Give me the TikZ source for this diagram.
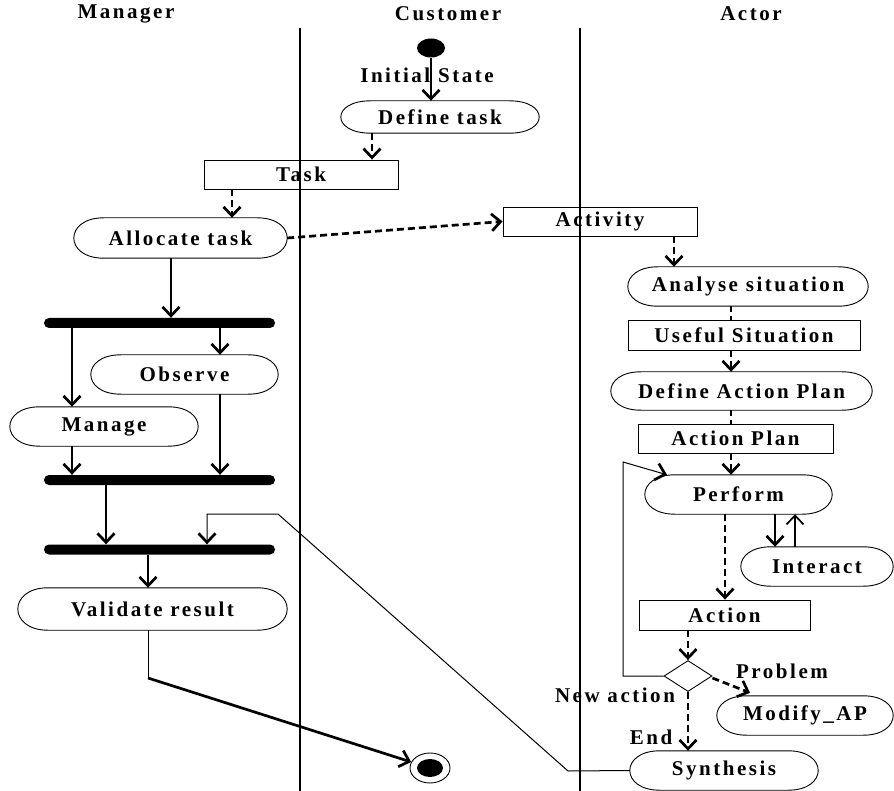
\documentclass[tikz,border=0pt]{standalone}
\usepackage{fontspec}
\setmainfont{Liberation Serif}[LetterSpace=12]
\usepackage{tikz}
\usetikzlibrary{arrows.meta,shapes.geometric,calc}
\makeatletter
\tikzset{actv/.style={%
  rectangle, inner sep=0pt, minimum height=39pt,
  append after command={%
    \pgfextra{%
      % outline with long, flat rounded ends
      \draw[line width=0.9pt] ([xshift=30pt]\tikzlastnode.north west) -- ([xshift=-30pt]\tikzlastnode.north east)
        .. controls ([xshift=10pt]\tikzlastnode.north east) and ([xshift=10pt]\tikzlastnode.south east) ..
        ([xshift=-30pt]\tikzlastnode.south east) -- ([xshift=30pt]\tikzlastnode.south west)
        .. controls ([xshift=-10pt]\tikzlastnode.south west) and ([xshift=-10pt]\tikzlastnode.north west) ..
        cycle;
    }
  }
}
}
\makeatother
\tikzset{
  objbox/.style={ draw, rectangle, line width=0.9pt, inner sep=0pt, minimum height=29pt }
}
\tikzset{
  syncbar/.style={ fill=black, rounded corners=5pt, inner sep=0pt, minimum width=231pt, minimum height=10pt }
}
\tikzset{
  flow/.style={ line width=2.7pt, -{Straight Barb[length=9pt,width=17pt]} }
}
\tikzset{
  objflow/.style={ flow, dash pattern=on 7pt off 4pt }
}
\tikzset{
  objlink/.style={ line width=2.7pt, dash pattern=on 6pt off 4pt }
}
\tikzset{
  thinflow/.style={ line width=1pt, -{Straight Barb[length=9pt,width=17pt,line width=2.7pt]} }
}
\tikzset{
  lane/.style={ line width=1.5pt }
}

\begin{document}
\begin{tikzpicture}[x=1pt, y=-1pt, every node/.style={font=\fontsize{21}{25}\selectfont\bfseries}]
  \useasboundingbox (0,0) rectangle (894,791);
  \draw[lane] (300,28) -- (300,791);
  \draw[lane] (580,28) -- (580,791);
  \node (t0) at (126,14) {Manager};
  \node (t1) at (448,14) {Customer};
  \node (t2) at (751,14) {Actor};

  % customer lane
  \node[fill, ellipse, inner sep=0pt, minimum width=28pt, minimum height=19pt] (s0) at (431,48) {};
  \node (l0) at (427,75) {Initial State};
  \node[actv, minimum width=198pt, minimum height=32pt] (a1) at (440,117) {Define task};
  \node[objbox, minimum width=194pt] (o1) at (301,174.5) {Task};
  \draw[flow] (s0.south) -- (s0.south |- a1.north);
  \draw[objflow] ([xshift=-68pt]a1.south) -- ([xshift=-68pt]a1.south |- o1.north);

  % manager lane
  \node[actv, minimum width=213pt, minimum height=40pt] (a2) at (180.5,238) {Allocate task};
  \node[syncbar] (b1) at (159.5,323) {};
  \node[actv, minimum width=187pt] (a9) at (184.5,374.5) {Observe};
  \node[actv, minimum width=188pt] (a10) at (104,426.5) {Manage};
  \node[syncbar] (b2) at (159.5,480) {};
  \node[syncbar] (b3) at (159.5,549.5) {};
  \node[actv, minimum width=269pt, minimum height=42pt] (a11) at (152.5,609) {Validate result};
  \node[draw, ellipse, line width=0.9pt, inner sep=0pt, minimum width=40pt, minimum height=30pt] (f0) at (430,768) {};
  \node[fill, ellipse, inner sep=0pt, minimum width=26pt, minimum height=18pt] (f1) at (f0) {};
  \coordinate (c3) at (148,678);

  \draw[objflow] ([xshift=-69pt]o1.south) -- ([xshift=-69pt]o1.south |- a2.north);
  \draw[flow] ([xshift=-9.5pt]a2.south) -- ([xshift=-9.5pt]a2.south |- b1.north);
  \draw[flow] ([xshift=-87.5pt]b1.south) -- ([xshift=-87.5pt]b1.south |- a10.north);
  \draw[flow] ([xshift=60.5pt]b1.south) -- ([xshift=60.5pt]b1.south |- a9.north);
  \draw[flow] ([xshift=-32pt]a10.south) -- ([xshift=-32pt]a10.south |- b2.north);
  \draw[flow] ([xshift=35.5pt]a9.south) -- ([xshift=35.5pt]a9.south |- b2.north);
  \draw[flow] ([xshift=-53.5pt]b2.south) -- ([xshift=-53.5pt]b2.south |- b3.north);
  \draw[flow] ([xshift=-11.5pt]b3.south) -- ([xshift=-11.5pt]b3.south |- a11.north);
  \draw[line width=1pt] ([xshift=-4.5pt]a11.south) -- (c3);
  \draw[flow] (c3) -- (f0);

  % actor lane
  \node[objbox, minimum width=194pt] (o2) at (600,221.5) {Activity};
  \node[actv, minimum width=240pt] (a3) at (748,286.5) {Analyse situation};
  \node[objbox, minimum width=232pt, minimum height=30pt] (o3) at (744,335) {Useful Situation};
  \node[actv, minimum width=261pt, minimum height=38pt] (a4) at (741.5,391) {Define Action Plan};
  \node[objbox, minimum width=195pt] (o4) at (735.5,438.5) {Action Plan};
  \node[actv, minimum width=187pt] (a5) at (738.5,494.5) {Perform};
  \node[actv, minimum width=152pt] (a6) at (817,566.5) {Interact};
  \node[objbox, minimum width=171pt, minimum height=30pt] (o5) at (724.5,615) {Action};
  \node[draw, diamond, aspect=1.6, line width=0.9pt, inner sep=0pt, minimum width=48pt, minimum height=31pt] (d0) at (688,676) {};
  \node[actv, minimum width=176pt] (a7) at (805,715.5) {Modify\_AP};
  \node[actv, minimum width=188pt] (a8) at (724,770.5) {Synthesis};
  \node (l1) at (782,671) {Problem};
  \node (l2) at (615,695) {New action};
  \node (l3) at (651,737) {End};
  \coordinate (c0) at (623,462);
  \coordinate (c1) at (568,771);
  \coordinate (c2) at (278,514);

  \draw[objflow] (a2.east) -- (o2.west);
  \draw[objflow] ([xshift=74pt]o2.south) -- ([xshift=74pt]o2.south |- a3.north);
  \draw[objlink] ([xshift=-17pt]a3.south) -- ([xshift=-17pt]a3.south |- o3.north);
  \draw[objflow] ([xshift=-13pt]o3.south) -- ([xshift=-13pt]o3.south |- a4.north);
  \draw[objlink] ([xshift=-10.5pt]a4.south) -- ([xshift=-10.5pt]a4.south |- o4.north);
  \draw[objflow] ([xshift=-4.5pt]o4.south) -- ([xshift=-4.5pt]o4.south |- a5.north);
  \draw[flow] ([xshift=36.5pt]a5.south) -- ([xshift=36.5pt]a5.south |- a6.north);
  \draw[flow, line width=1.7pt] ([xshift=-22pt]a6.north) -- ([xshift=-22pt]a6.north |- a5.south);
  \draw[objflow] ([xshift=-13.5pt]a5.south) -- ([xshift=-13.5pt]a5.south |- o5.north);
  \draw[objflow] ([xshift=-36.5pt]o5.south) -- ([xshift=-36.5pt]o5.south |- d0.north);
  \draw[thinflow] (d0.west) -| (c0) -- ([xshift=-71.5pt]a5.north);
  \draw[objflow] ([yshift=-2pt]d0.east) -- ([xshift=-55pt,yshift=3pt]a7.north);
  \draw[objflow] (d0.south) -- (d0.south |- a8.north);
  \draw[thinflow] (a8.west) -- (c1) -- (c2) -| ([xshift=47.5pt]b3.north);
\end{tikzpicture}
\end{document}
